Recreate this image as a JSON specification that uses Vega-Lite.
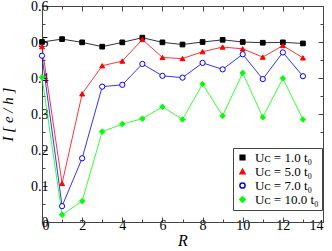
{
  "$schema": "https://vega.github.io/schema/vega-lite/v6.json",
  "width": 281,
  "height": 216,
  "autosize": {"type": "none"},
  "padding": {"left": 42, "top": 6, "right": 9, "bottom": 29},
  "background": "white",
  "config": {
    "view": {"stroke": null},
    "axis": {
      "grid": false,
      "domainColor": "#444444",
      "tickColor": "#444444",
      "labelFont": "Liberation Serif",
      "labelFontSize": 14,
      "labelColor": "black",
      "titleFont": "Liberation Serif",
      "titleFontStyle": "italic",
      "titleFontWeight": "normal",
      "titleFontSize": 16,
      "titleColor": "black"
    }
  },
  "data": {
    "values": [
      {"R": 0, "I": 0.500, "s": "Uᴄ =  1.0 t₀"},
      {"R": 1, "I": 0.508, "s": "Uᴄ =  1.0 t₀"},
      {"R": 2, "I": 0.499, "s": "Uᴄ =  1.0 t₀"},
      {"R": 3, "I": 0.487, "s": "Uᴄ =  1.0 t₀"},
      {"R": 4, "I": 0.499, "s": "Uᴄ =  1.0 t₀"},
      {"R": 5, "I": 0.512, "s": "Uᴄ =  1.0 t₀"},
      {"R": 6, "I": 0.499, "s": "Uᴄ =  1.0 t₀"},
      {"R": 7, "I": 0.493, "s": "Uᴄ =  1.0 t₀"},
      {"R": 8, "I": 0.500, "s": "Uᴄ =  1.0 t₀"},
      {"R": 9, "I": 0.506, "s": "Uᴄ =  1.0 t₀"},
      {"R": 10, "I": 0.500, "s": "Uᴄ =  1.0 t₀"},
      {"R": 11, "I": 0.498, "s": "Uᴄ =  1.0 t₀"},
      {"R": 12, "I": 0.499, "s": "Uᴄ =  1.0 t₀"},
      {"R": 13, "I": 0.496, "s": "Uᴄ =  1.0 t₀"},
      {"R": 0, "I": 0.487, "s": "Uᴄ =  5.0 t₀"},
      {"R": 1, "I": 0.107, "s": "Uᴄ =  5.0 t₀"},
      {"R": 2, "I": 0.356, "s": "Uᴄ =  5.0 t₀"},
      {"R": 3, "I": 0.434, "s": "Uᴄ =  5.0 t₀"},
      {"R": 4, "I": 0.447, "s": "Uᴄ =  5.0 t₀"},
      {"R": 5, "I": 0.507, "s": "Uᴄ =  5.0 t₀"},
      {"R": 6, "I": 0.457, "s": "Uᴄ =  5.0 t₀"},
      {"R": 7, "I": 0.454, "s": "Uᴄ =  5.0 t₀"},
      {"R": 8, "I": 0.473, "s": "Uᴄ =  5.0 t₀"},
      {"R": 9, "I": 0.486, "s": "Uᴄ =  5.0 t₀"},
      {"R": 10, "I": 0.481, "s": "Uᴄ =  5.0 t₀"},
      {"R": 11, "I": 0.458, "s": "Uᴄ =  5.0 t₀"},
      {"R": 12, "I": 0.490, "s": "Uᴄ =  5.0 t₀"},
      {"R": 13, "I": 0.456, "s": "Uᴄ =  5.0 t₀"},
      {"R": 0, "I": 0.462, "s": "Uᴄ =  7.0 t₀"},
      {"R": 1, "I": 0.044, "s": "Uᴄ =  7.0 t₀"},
      {"R": 2, "I": 0.177, "s": "Uᴄ =  7.0 t₀"},
      {"R": 3, "I": 0.376, "s": "Uᴄ =  7.0 t₀"},
      {"R": 4, "I": 0.381, "s": "Uᴄ =  7.0 t₀"},
      {"R": 5, "I": 0.439, "s": "Uᴄ =  7.0 t₀"},
      {"R": 6, "I": 0.406, "s": "Uᴄ =  7.0 t₀"},
      {"R": 7, "I": 0.401, "s": "Uᴄ =  7.0 t₀"},
      {"R": 8, "I": 0.442, "s": "Uᴄ =  7.0 t₀"},
      {"R": 9, "I": 0.424, "s": "Uᴄ =  7.0 t₀"},
      {"R": 10, "I": 0.466, "s": "Uᴄ =  7.0 t₀"},
      {"R": 11, "I": 0.397, "s": "Uᴄ =  7.0 t₀"},
      {"R": 12, "I": 0.471, "s": "Uᴄ =  7.0 t₀"},
      {"R": 13, "I": 0.405, "s": "Uᴄ =  7.0 t₀"},
      {"R": 0, "I": 0.402, "s": "Uᴄ = 10.0 t₀"},
      {"R": 1, "I": 0.020, "s": "Uᴄ = 10.0 t₀"},
      {"R": 2, "I": 0.058, "s": "Uᴄ = 10.0 t₀"},
      {"R": 3, "I": 0.251, "s": "Uᴄ = 10.0 t₀"},
      {"R": 4, "I": 0.272, "s": "Uᴄ = 10.0 t₀"},
      {"R": 5, "I": 0.287, "s": "Uᴄ = 10.0 t₀"},
      {"R": 6, "I": 0.320, "s": "Uᴄ = 10.0 t₀"},
      {"R": 7, "I": 0.285, "s": "Uᴄ = 10.0 t₀"},
      {"R": 8, "I": 0.383, "s": "Uᴄ = 10.0 t₀"},
      {"R": 9, "I": 0.295, "s": "Uᴄ = 10.0 t₀"},
      {"R": 10, "I": 0.414, "s": "Uᴄ = 10.0 t₀"},
      {"R": 11, "I": 0.291, "s": "Uᴄ = 10.0 t₀"},
      {"R": 12, "I": 0.399, "s": "Uᴄ = 10.0 t₀"},
      {"R": 13, "I": 0.285, "s": "Uᴄ = 10.0 t₀"}
    ]
  },
  "layer": [
    {
      "mark": {"type": "line", "strokeWidth": 0.8},
      "encoding": {
        "x": {
          "field": "R", "type": "quantitative",
          "scale": {"domain": [0, 14], "nice": false},
          "axis": {
            "orient": "bottom", "title": "R",
            "values": [0,1,2,3,4,5,6,7,8,9,10,11,12,13,14],
            "labelExpr": "datum.value % 2 == 0 ? datum.label : ''",
            "tickSize": {"condition": {"test": "datum.value % 2 == 0", "value": -5}, "value": -3},
            "labelPadding": 1,
            "titlePadding": 0
          }
        },
        "y": {
          "field": "I", "type": "quantitative",
          "scale": {"domain": [0, 0.6], "nice": false},
          "axis": {
            "orient": "left", "title": "I [ e / h ]",
            "values": [0,0.05,0.1,0.15,0.2,0.25,0.3,0.35,0.4,0.45,0.5,0.55,0.6],
            "format": "~g",
            "labelExpr": "round(datum.value*20) % 2 == 0 ? datum.label : ''",
            "tickSize": {"condition": {"test": "round(datum.value*20) % 2 == 0", "value": -5}, "value": -3},
            "labelPadding": -1,
            "titleX": -30,
            "titleY": 108,
            "titleAngle": -90,
            "titleAlign": "center",
            "titleBaseline": "alphabetic",
            "titleFontSize": 15
          }
        },
        "stroke": {
          "field": "s", "type": "nominal", "title": null,
          "scale": {"domain": ["Uᴄ =  1.0 t₀","Uᴄ =  5.0 t₀","Uᴄ =  7.0 t₀","Uᴄ = 10.0 t₀"], "range": ["#000000","#ff0000","#0000ff","#00ff00"]}
        }
      }
    },
    {
      "mark": {"type": "point", "filled": true, "strokeWidth": 1, "opacity": 1},
      "encoding": {
        "x": {
          "field": "R", "type": "quantitative",
          "axis": {
            "orient": "top", "title": null,
            "values": [0,1,2,3,4,5,6,7,8,9,10,11,12,13,14],
            "labels": false,
            "tickSize": {"condition": {"test": "datum.value % 2 == 0", "value": -5}, "value": -3}
          }
        },
        "y": {
          "field": "I", "type": "quantitative",
          "axis": {
            "orient": "right", "title": null,
            "values": [0,0.05,0.1,0.15,0.2,0.25,0.3,0.35,0.4,0.45,0.5,0.55,0.6],
            "labels": false,
            "tickSize": {"condition": {"test": "round(datum.value*20) % 2 == 0", "value": -5}, "value": -3}
          }
        },
        "shape": {
          "field": "s", "type": "nominal", "title": null,
          "scale": {"domain": ["Uᴄ =  1.0 t₀","Uᴄ =  5.0 t₀","Uᴄ =  7.0 t₀","Uᴄ = 10.0 t₀"], "range": ["square","triangle-up","circle","diamond"]},
          "legend": {
            "orient": "none",
            "legendX": 191,
            "legendY": 142,
            "strokeColor": "#444444",
            "fillColor": "white",
            "padding": 3,
            "labelFont": "Liberation Serif",
            "labelFontSize": 13,
            "labelColor": "black",
            "rowPadding": 0,
            "labelOffset": 6
          }
        },
        "fill": {
          "field": "s", "type": "nominal", "title": null,
          "scale": {"domain": ["Uᴄ =  1.0 t₀","Uᴄ =  5.0 t₀","Uᴄ =  7.0 t₀","Uᴄ = 10.0 t₀"], "range": ["#000000","#ff0000","#ffffff","#00ff00"]}
        },
        "stroke": {
          "field": "s", "type": "nominal", "title": null
        },
        "size": {
          "field": "s", "type": "nominal", "title": null,
          "scale": {"domain": ["Uᴄ =  1.0 t₀","Uᴄ =  5.0 t₀","Uᴄ =  7.0 t₀","Uᴄ = 10.0 t₀"], "range": [22, 30, 22, 55]}
        }
      }
    }
  ],
  "resolve": {"axis": {"x": "independent", "y": "independent"}}
}
